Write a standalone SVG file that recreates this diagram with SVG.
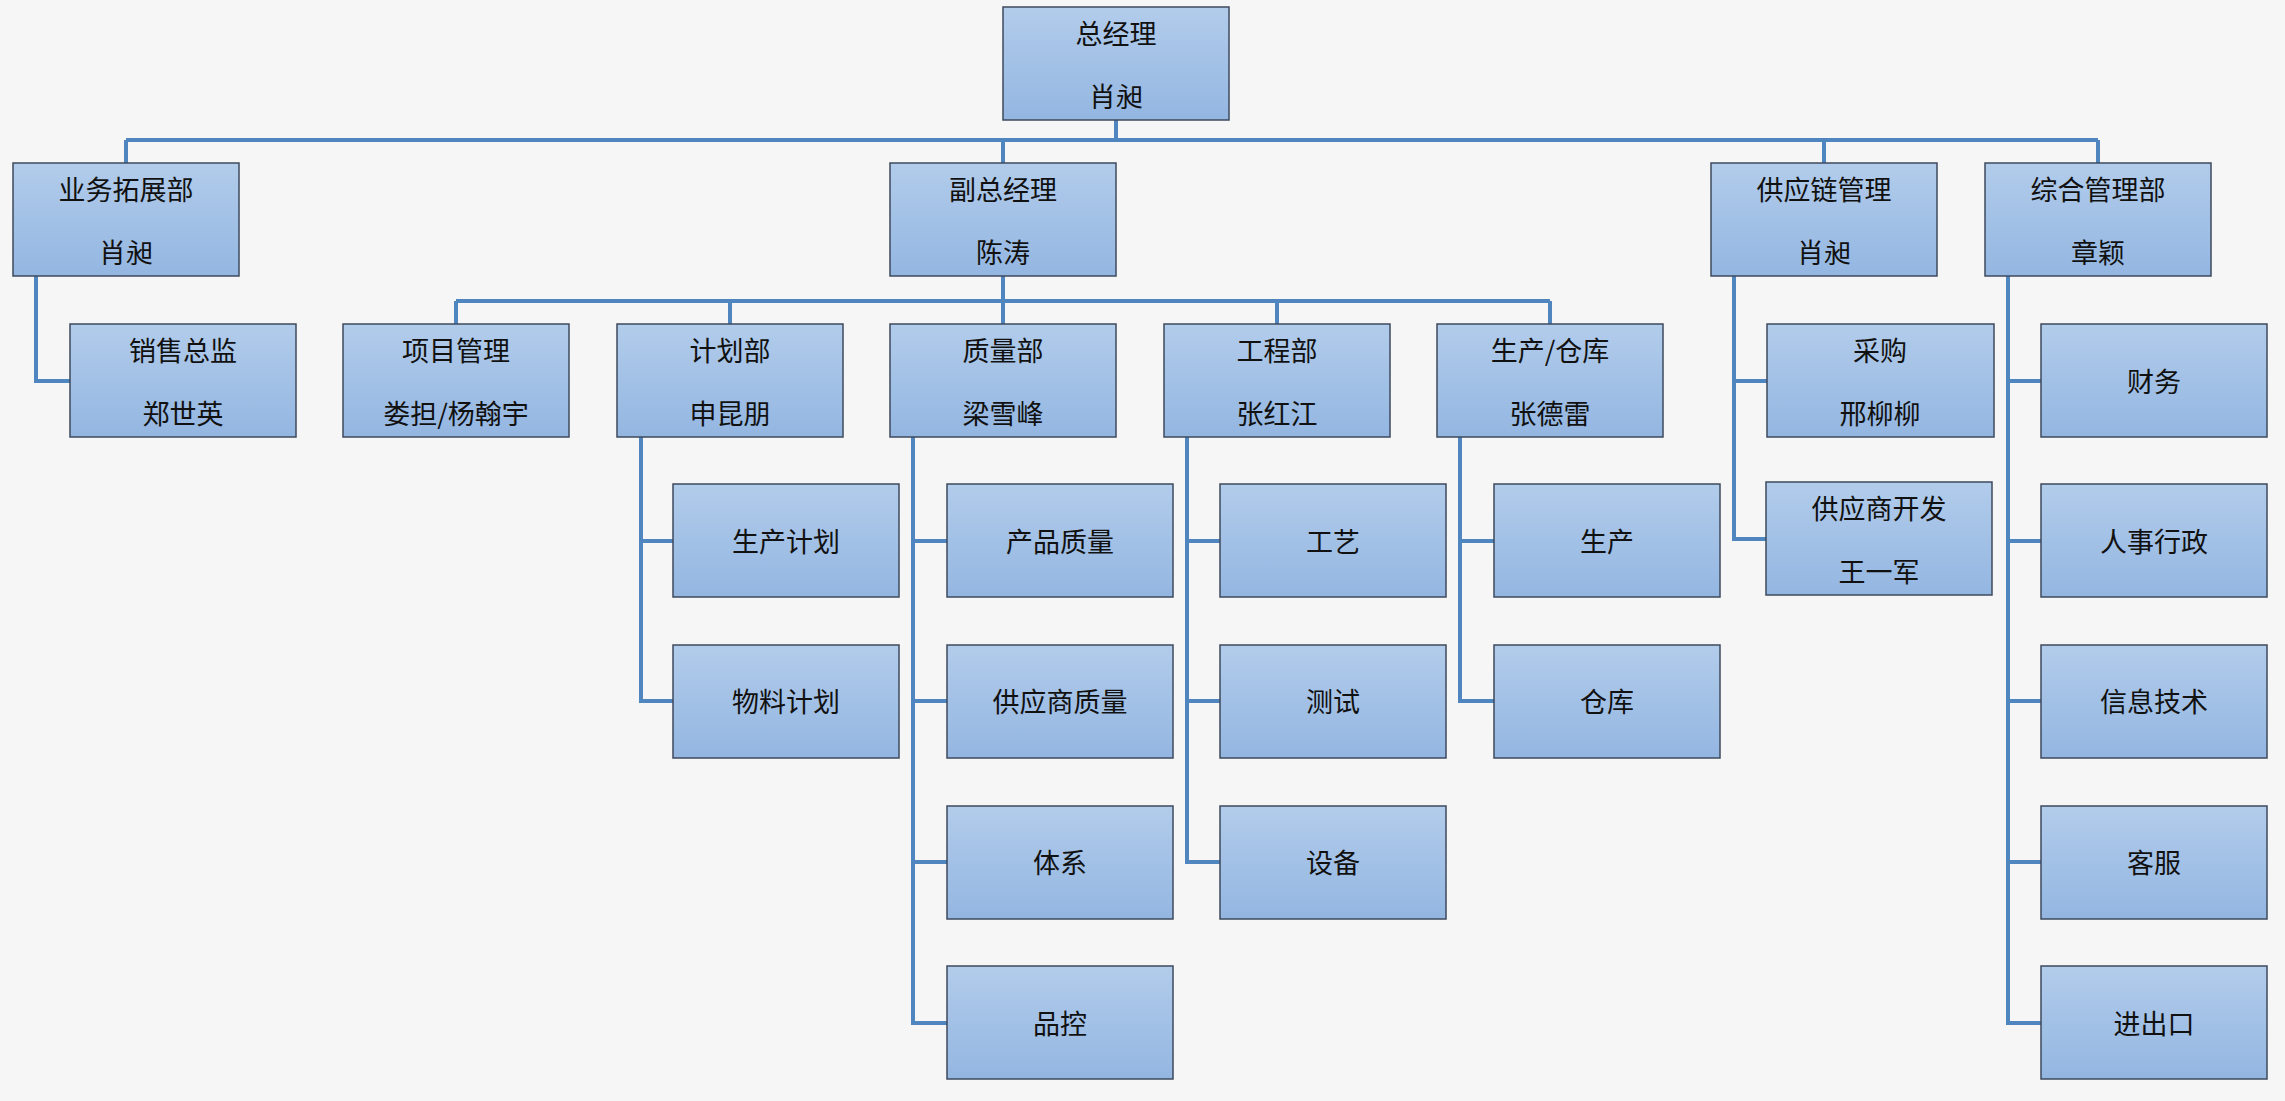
<svg xmlns="http://www.w3.org/2000/svg" width="2285" height="1101" viewBox="0 0 2285 1101">
<defs>
<linearGradient id="g" x1="0" y1="0" x2="0" y2="1">
<stop offset="0" stop-color="#b2cceb"/>
<stop offset="1" stop-color="#93b6e1"/>
</linearGradient>
</defs>
<style>
.b{fill:url(#g);stroke:#3e4a5c;stroke-width:1.5}
.t{font-family:"Noto Sans CJK SC","Microsoft YaHei",sans-serif;font-size:27px;fill:#111;text-anchor:middle;dominant-baseline:central}
.c{fill:none;stroke:#5086bf;stroke-width:4}
</style>
<rect width="2285" height="1101" fill="#f6f6f6"/>
<g id="connectors">
<path class="c" d="M1116 120V140M126 140H2098M126 140V163M1003 140V163M1824 140V163M2098 140V163"/>
<path class="c" d="M36 276V381H70"/>
<path class="c" d="M1003 276V324M456 301H1550M456 301V324M730 301V324M1277 301V324M1550 301V324"/>
<path class="c" d="M641 437V701H673M641 541H673"/>
<path class="c" d="M913 437V1023H947M913 541H947M913 701H947M913 862H947"/>
<path class="c" d="M1187 437V862H1220M1187 541H1220M1187 701H1220"/>
<path class="c" d="M1460 437V701H1494M1460 541H1494"/>
<path class="c" d="M1734 276V539H1766M1734 381H1767"/>
<path class="c" d="M2008 276V1023H2041M2008 381H2041M2008 541H2041M2008 701H2041M2008 862H2041"/>
</g>
<g id="n-gm"><rect class="b" x="1003" y="7" width="226" height="113"/><text class="t" x="1116" y="32">总经理</text><text class="t" x="1116" y="95">肖昶</text></g>
<g id="n-bd"><rect class="b" x="13" y="163" width="226" height="113"/><text class="t" x="126" y="188">业务拓展部</text><text class="t" x="126" y="251">肖昶</text></g>
<g id="n-sales"><rect class="b" x="70" y="324" width="226" height="113"/><text class="t" x="183" y="349">销售总监</text><text class="t" x="183" y="412">郑世英</text></g>
<g id="n-vgm"><rect class="b" x="890" y="163" width="226" height="113"/><text class="t" x="1003" y="188">副总经理</text><text class="t" x="1003" y="251">陈涛</text></g>
<g id="n-scm"><rect class="b" x="1711" y="163" width="226" height="113"/><text class="t" x="1824" y="188">供应链管理</text><text class="t" x="1824" y="251">肖昶</text></g>
<g id="n-admin"><rect class="b" x="1985" y="163" width="226" height="113"/><text class="t" x="2098" y="188">综合管理部</text><text class="t" x="2098" y="251">章颖</text></g>
<g id="n-pm"><rect class="b" x="343" y="324" width="226" height="113"/><text class="t" x="456" y="349">项目管理</text><text class="t" x="456" y="412">娄担/杨翰宇</text></g>
<g id="n-plan"><rect class="b" x="617" y="324" width="226" height="113"/><text class="t" x="730" y="349">计划部</text><text class="t" x="730" y="412">申昆朋</text></g>
<g id="n-qa"><rect class="b" x="890" y="324" width="226" height="113"/><text class="t" x="1003" y="349">质量部</text><text class="t" x="1003" y="412">梁雪峰</text></g>
<g id="n-eng"><rect class="b" x="1164" y="324" width="226" height="113"/><text class="t" x="1277" y="349">工程部</text><text class="t" x="1277" y="412">张红江</text></g>
<g id="n-prod"><rect class="b" x="1437" y="324" width="226" height="113"/><text class="t" x="1550" y="349">生产/仓库</text><text class="t" x="1550" y="412">张德雷</text></g>
<g id="n-purch"><rect class="b" x="1767" y="324" width="227" height="113"/><text class="t" x="1880" y="349">采购</text><text class="t" x="1880" y="412">邢柳柳</text></g>
<g id="n-sd"><rect class="b" x="1766" y="482" width="226" height="113"/><text class="t" x="1879" y="507">供应商开发</text><text class="t" x="1879" y="570">王一军</text></g>
<g id="n-pp"><rect class="b" x="673" y="484" width="226" height="113"/><text class="t" x="786" y="540">生产计划</text></g>
<g id="n-mp"><rect class="b" x="673" y="645" width="226" height="113"/><text class="t" x="786" y="700">物料计划</text></g>
<g id="n-pq"><rect class="b" x="947" y="484" width="226" height="113"/><text class="t" x="1060" y="540">产品质量</text></g>
<g id="n-sq"><rect class="b" x="947" y="645" width="226" height="113"/><text class="t" x="1060" y="700">供应商质量</text></g>
<g id="n-sys"><rect class="b" x="947" y="806" width="226" height="113"/><text class="t" x="1060" y="861">体系</text></g>
<g id="n-qc"><rect class="b" x="947" y="966" width="226" height="113"/><text class="t" x="1060" y="1022">品控</text></g>
<g id="n-proc"><rect class="b" x="1220" y="484" width="226" height="113"/><text class="t" x="1333" y="540">工艺</text></g>
<g id="n-test"><rect class="b" x="1220" y="645" width="226" height="113"/><text class="t" x="1333" y="700">测试</text></g>
<g id="n-equip"><rect class="b" x="1220" y="806" width="226" height="113"/><text class="t" x="1333" y="861">设备</text></g>
<g id="n-mfg"><rect class="b" x="1494" y="484" width="226" height="113"/><text class="t" x="1607" y="540">生产</text></g>
<g id="n-wh"><rect class="b" x="1494" y="645" width="226" height="113"/><text class="t" x="1607" y="700">仓库</text></g>
<g id="n-fin"><rect class="b" x="2041" y="324" width="226" height="113"/><text class="t" x="2154" y="380">财务</text></g>
<g id="n-hr"><rect class="b" x="2041" y="484" width="226" height="113"/><text class="t" x="2154" y="540">人事行政</text></g>
<g id="n-it"><rect class="b" x="2041" y="645" width="226" height="113"/><text class="t" x="2154" y="700">信息技术</text></g>
<g id="n-cs"><rect class="b" x="2041" y="806" width="226" height="113"/><text class="t" x="2154" y="861">客服</text></g>
<g id="n-ie"><rect class="b" x="2041" y="966" width="226" height="113"/><text class="t" x="2154" y="1022">进出口</text></g>
</svg>
